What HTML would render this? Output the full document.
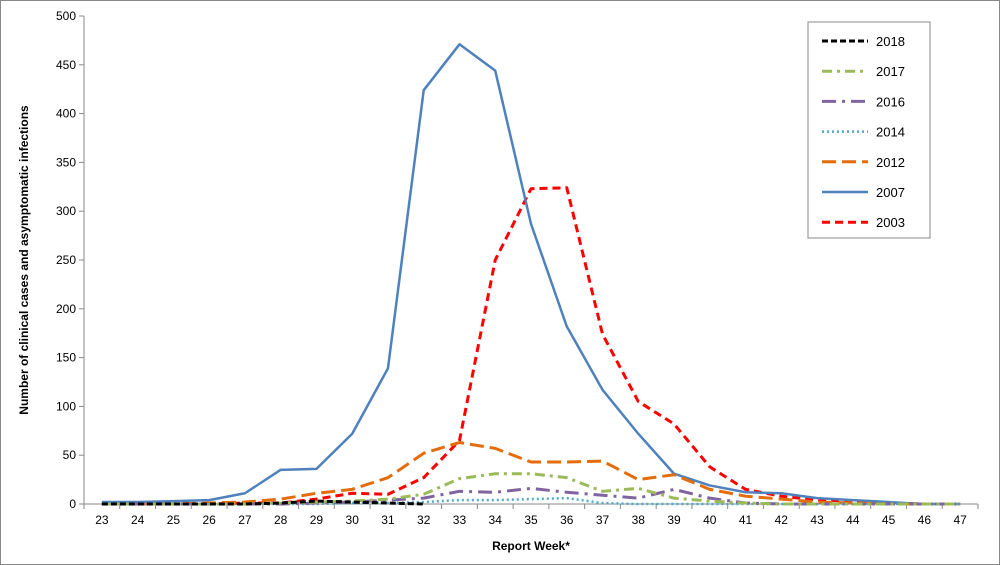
<!DOCTYPE html>
<html><head><meta charset="utf-8"><style>
body{margin:0;background:#fff}
svg{display:block;font-family:"Liberation Sans",sans-serif}
</style></head><body>
<svg id="c" width="1000" height="565">
<rect x="0.5" y="0.5" width="999" height="564" fill="#fff" stroke="#888"/>
<g id="g"></g>
</svg>
<script>
const weeks=[23,24,25,26,27,28,29,30,31,32,33,34,35,36,37,38,39,40,41,42,43,44,45,46,47];
const yTicks=[0,50,100,150,200,250,300,350,400,450,500];
const s2018=[0,0,0,0,0,1,3,2,1,0,null,null,null,null,null,null,null,null,null,null,null,null,null,null,null];
const s2017=[0,0,0,0,0,1,2,3,5,10,26,31,31,27,13,16,6,3,1,0,0,0,0,0,0];
const s2016=[0,0,0,0,0,0,1,2,4,6,13,12,16,12,9,6,15,6,1,0,0,0,0,0,0];
const s2014=[0,0,0,0,0,0,0,1,1,2,4,4,5,6,1,0,0,0,0,0,0,0,0,0,0];
const s2012=[0,0,0,1,2,5,11,15,27,52,63,57,43,43,44,25,30,15,8,5,2,1,0,0,0];
const s2007=[2,2,3,4,11,35,36,72,139,424,471,444,287,182,117,72,31,19,12,11,6,4,2,0,0];
const s2003=[0,0,0,0,1,1,5,11,10,27,65,250,323,324,174,105,82,38,15,8,4,3,1,0,0];
const x0=84,x1=978,yb=504,yt=16,yMax=500;
const bw=(x1-x0)/weeks.length;
const X=i=>x0+bw*(i+0.5);
const Y=v=>yb-(v/yMax)*(yb-yt);
const NS="http://www.w3.org/2000/svg",g=document.getElementById('g');
function mk(t,a,p){const e=document.createElementNS(NS,t);for(const k in a)e.setAttribute(k,a[k]);(p||g).appendChild(e);return e;}
let e;
e=mk('line',{x1:x0,x2:x0,y1:yt,y2:yb,stroke:'#888'});


e=mk('line',{x1:x0,x2:x1,y1:yb,y2:yb,stroke:'#888'});


yTicks.forEach(v=>{
 mk('line',{x1:x0-5,x2:x0,y1:Y(v),y2:Y(v),stroke:'#888'});
 e=mk('text',{x:x0-8,y:Y(v)+4,'text-anchor':'end','font-size':12,fill:'#000'});e.textContent=v;
 
 
});
for(let i=0;i<=weeks.length;i++)mk('line',{x1:x0+bw*i,x2:x0+bw*i,y1:yb,y2:yb+5,stroke:'#888'});
weeks.forEach((w,i)=>{
 e=mk('text',{x:X(i),y:yb+20,'text-anchor':'middle','font-size':12,fill:'#000'});e.textContent=w;
 
 
});
e=mk('text',{x:531,y:550,'text-anchor':'middle','font-size':12,'font-weight':'bold'});e.textContent='Report Week*';


e=mk('text',{x:0,y:0,transform:'translate(28,260) rotate(-90)','text-anchor':'middle','font-size':12,'font-weight':'bold'});e.textContent='Number of clinical cases and asymptomatic infections';


const series=[
 {n:'2018',d:s2018,c:'#000',w:3,da:'6,3'},
 {n:'2017',d:s2017,c:'#9bbb59',w:3,da:'10,5,3,5'},
 {n:'2016',d:s2016,c:'#8064a2',w:3,da:'14,6,3,6'},
 {n:'2014',d:s2014,c:'#4bacc6',w:2.5,da:'2,3'},
 {n:'2012',d:s2012,c:'#e46c0a',w:3,da:'14,6'},
 {n:'2007',d:s2007,c:'#4f81bd',w:2.5,da:''},
 {n:'2003',d:s2003,c:'#ff0000',w:3,da:'8,5'}];
[...series].reverse().forEach(s=>{
 const pts=[];s.d.forEach((v,i)=>{if(v!==null)pts.push(X(i)+','+Y(v));});
 e=mk('polyline',{points:pts.join(' '),fill:'none',stroke:s.c,'stroke-width':s.w,'stroke-dasharray':s.da,'stroke-linejoin':'round'});
 
 
});
e=mk('rect',{x:808,y:22,width:122,height:216,fill:'#fff',stroke:'#888'});


series.forEach((s,i)=>{
 const y=41+i*30.2;
 mk('line',{x1:822,x2:868,y1:y,y2:y,stroke:s.c,'stroke-width':s.w,'stroke-dasharray':s.da});
 e=mk('text',{x:876,y:y+5,'font-size':13});e.textContent=s.n;
 
 
});
</script>
</body></html>
